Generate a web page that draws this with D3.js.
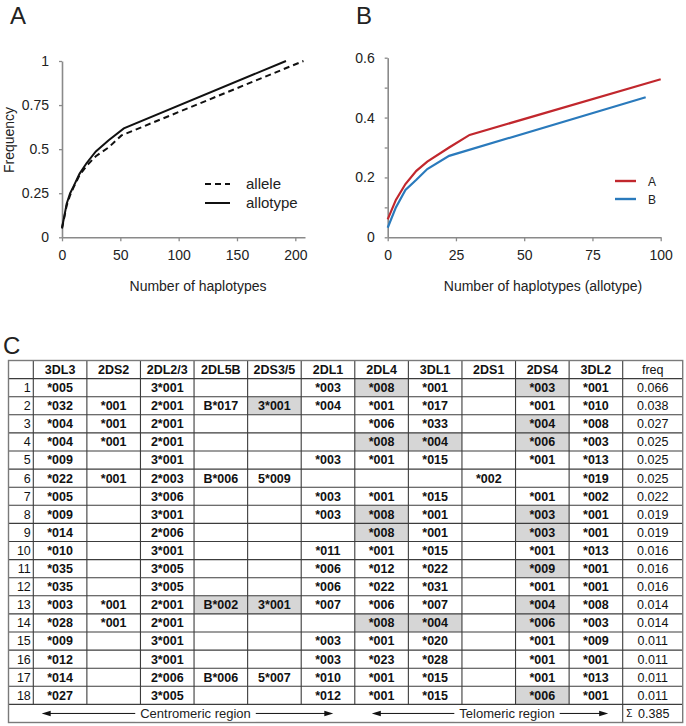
<!DOCTYPE html>
<html><head><meta charset="utf-8">
<script src="https://cdn.jsdelivr.net/npm/d3@7"></script>
<style>
body{margin:0;background:#fff}
svg{display:block}
text{font-family:"Liberation Sans",Arial,Helvetica,sans-serif}
</style>
</head><body>
<svg id="c" width="686" height="726"></svg>
<script>
// ---------- DATA ----------
// Panel A: cumulative frequency vs number of haplotypes
const allotypeCurve = [[0,0.054],[2,0.12],[4,0.19],[7,0.25],[10,0.29],[15,0.36],[21,0.42],[29,0.487],[40,0.55],[53,0.618],[192,1.0]];
const alleleCurve   = [[0,0.05],[2,0.115],[4,0.18],[7,0.24],[10,0.285],[15,0.352],[21,0.405],[29,0.46],[40,0.51],[51,0.578],[207,1.0]];
const aXTicks = [0,50,100,150,200];
const aYTicks = [0,0.25,0.5,0.75,1];
const aLegend = ["allele","allotype"];

// Panel B: haplotype groups A and B (allotype)
const groupACurve = [[0,0.06],[3,0.125],[6.5,0.178],[10.5,0.222],[14.5,0.253],[22.5,0.3],[30,0.342],[100,0.528]];
const groupBCurve = [[0,0.032],[3,0.10],[6.5,0.158],[10.5,0.192],[14.5,0.228],[22.5,0.272],[94.5,0.468]];
const bXTicks = [0,25,50,75,100];
const bYTicks = [0,0.1,0.2,0.3,0.4,0.5,0.6];
const bLegend = ["A","B"];

// Panel C: table
const genes = ["3DL3","2DS2","2DL2/3","2DL5B","2DS3/5","2DL1","2DL4","3DL1","2DS1","2DS4","3DL2"];
const haplotypes = [
  ["*005","","3*001","","","*003","*008","*001","","*003","*001"],
  ["*032","*001","2*001","B*017","3*001","*004","*001","*017","","*001","*010"],
  ["*004","*001","2*001","","","","*006","*033","","*004","*008"],
  ["*004","*001","2*001","","","","*008","*004","","*006","*003"],
  ["*009","","3*001","","","*003","*001","*015","","*001","*013"],
  ["*022","*001","2*003","B*006","5*009","","","","*002","","*019"],
  ["*005","","3*006","","","*003","*001","*015","","*001","*002"],
  ["*009","","3*001","","","*003","*008","*001","","*003","*001"],
  ["*014","","2*006","","","","*008","*001","","*003","*001"],
  ["*010","","3*001","","","*011","*001","*015","","*001","*013"],
  ["*035","","3*005","","","*006","*012","*022","","*009","*001"],
  ["*035","","3*005","","","*006","*022","*031","","*001","*001"],
  ["*003","*001","2*001","B*002","3*001","*007","*006","*007","","*004","*008"],
  ["*028","*001","2*001","","","","*008","*004","","*006","*003"],
  ["*009","","3*001","","","*003","*001","*020","","*001","*009"],
  ["*012","","3*001","","","*003","*023","*028","","*001","*001"],
  ["*014","","2*006","B*006","5*007","*010","*001","*015","","*001","*013"],
  ["*027","","3*005","","","*012","*001","*015","","*006","*001"]
];
const freqs = [0.066,0.038,0.027,0.025,0.025,0.025,0.022,0.019,0.019,0.016,0.016,0.016,0.014,0.014,0.011,0.011,0.011,0.011];
// shaded cells: [row index (0-based), gene]
const shadedCells = [[0,"2DL4"],[0,"2DS4"],[1,"2DS3/5"],[2,"2DS4"],[3,"2DL4"],[3,"3DL1"],[3,"2DS4"],
  [7,"2DL4"],[7,"2DS4"],[8,"2DL4"],[8,"2DS4"],[10,"2DS4"],[12,"2DL5B"],[12,"2DS3/5"],[12,"2DS4"],
  [13,"2DL4"],[13,"3DL1"],[13,"2DS4"],[17,"2DS4"]];
const regions = [
  {name:"Centromeric region", from:"3DL3", to:"2DL1"},
  {name:"Telomeric region", from:"2DL4", to:"3DL2"}
];
const freqTotal = 0.385;

// ---------- DRAW ----------
const svg = d3.select("#c");
const axisColor = "#8a8a8a";
const FONT = "Liberation Sans, Arial, sans-serif";

function styleAxis(g){
  g.selectAll("path.domain").attr("stroke", axisColor).attr("stroke-width", 1.6);
  g.selectAll(".tick line").attr("stroke", axisColor).attr("stroke-width", 1.3);
  g.selectAll(".tick text").attr("fill", "#222").attr("font-size", 14).attr("font-family", FONT);
}

// Panel labels
[["A",10,24],["B",356,24],["C",3,354]].forEach(([t,x,y])=>{
  svg.append("text").attr("x",x).attr("y",y).attr("font-size",24).attr("fill","#222").text(t);
});

// ---- Panel A ----
const xA = d3.scaleLinear().domain([0,208.3]).range([62,305]);
const yA = d3.scaleLinear().domain([0,1]).range([237.3,61]);
const gA = svg.append("g");
gA.append("g").attr("transform","translate(0,237.3)")
  .call(d3.axisBottom(xA).tickValues(aXTicks).tickSize(4).tickSizeOuter(0).tickPadding(9))
  .call(styleAxis);
gA.append("g").attr("transform","translate(62,0)")
  .call(d3.axisLeft(yA).tickValues(aYTicks).tickFormat(d=>String(d)).tickSize(3).tickSizeOuter(0).tickPadding(10))
  .call(styleAxis);
const lineA = d3.line().x(d=>xA(d[0])).y(d=>yA(d[1]));
gA.append("path").datum(alleleCurve).attr("d",lineA).attr("fill","none")
  .attr("stroke","#111").attr("stroke-width",2).attr("stroke-dasharray","6,4");
gA.append("path").datum(allotypeCurve).attr("d",lineA).attr("fill","none")
  .attr("stroke","#111").attr("stroke-width",2);
gA.append("text").attr("x",198).attr("y",291).attr("text-anchor","middle").attr("font-size",14).attr("fill","#222").text("Number of haplotypes");
gA.append("text").attr("transform","translate(14,140) rotate(-90)").attr("text-anchor","middle").attr("font-size",14).attr("fill","#222").text("Frequency");
aLegend.forEach((t,i)=>{
  const y = 184 + i*19;
  gA.append("line").attr("x1",205).attr("x2",230).attr("y1",y).attr("y2",y)
    .attr("stroke","#111").attr("stroke-width",2).attr("stroke-dasharray", i===0 ? "6,4" : null);
  gA.append("text").attr("x",246).attr("y",y+5).attr("font-size",15).attr("fill","#222").text(t);
});

// ---- Panel B ----
const xB = d3.scaleLinear().domain([0,100]).range([387.7,660.7]);
const yB = d3.scaleLinear().domain([0,0.6]).range([237.3,57.7]);
const gB = svg.append("g");
gB.append("g").attr("transform","translate(0,237.3)")
  .call(d3.axisBottom(xB).tickValues(bXTicks).tickSize(4).tickSizeOuter(0).tickPadding(9))
  .call(styleAxis);
gB.append("g").attr("transform","translate(387.7,0)")
  .call(d3.axisLeft(yB).tickValues(bYTicks).tickFormat(d=>(Math.round(d*10)%2===0 ? String(Math.round(d*10)/10) : "")).tickSize(3).tickSizeOuter(0).tickPadding(10))
  .call(styleAxis);
const lineB = d3.line().x(d=>xB(d[0])).y(d=>yB(d[1]));
const colA = "#c1272d", colB = "#2a7abc";
gB.append("path").datum(groupACurve).attr("d",lineB).attr("fill","none").attr("stroke",colA).attr("stroke-width",2.2);
gB.append("path").datum(groupBCurve).attr("d",lineB).attr("fill","none").attr("stroke",colB).attr("stroke-width",2.2);
gB.append("text").attr("x",543).attr("y",291).attr("text-anchor","middle").attr("font-size",14).attr("fill","#222").text("Number of haplotypes (allotype)");
bLegend.forEach((t,i)=>{
  const y = 181 + i*18;
  gB.append("line").attr("x1",615).attr("x2",636).attr("y1",y).attr("y2",y)
    .attr("stroke", i===0?colA:colB).attr("stroke-width",2.4);
  gB.append("text").attr("x",648).attr("y",y+4.5).attr("font-size",12).attr("fill","#222").text(t);
});

// ---- Panel C: table ----
const tTop = 360.5, rowH = 18.1, tLeft = 8.5, tRight = 682.7;
const idxRight = 33.3;
const xCol = d3.scaleBand().domain(genes).range([idxRight, 622.7]);
const freqL = xCol.range()[1], freqR = tRight;
const nRows = haplotypes.length;
const gC = svg.append("g");
const rowY = i => tTop + rowH*(i+1);   // data row i top (header is row 0)

// shading
gC.selectAll("rect.shade").data(shadedCells).join("rect")
  .attr("x", d=>xCol(d[1])).attr("y", d=>rowY(d[0]))
  .attr("width", xCol.bandwidth()).attr("height", rowH).attr("fill","#d6d6d6");

// grid lines
const lineColor = "#3c3c3c";
for(let r=1;r<=nRows+1;r++){
  const y = tTop + rowH*r;
  gC.append("line").attr("x1",tLeft).attr("x2",tRight).attr("y1",y).attr("y2",y).attr("stroke",lineColor).attr("stroke-width",1.1);
}
const vEdges = [idxRight, ...genes.map(g=>xCol(g)+xCol.bandwidth())];
vEdges.forEach(x=>{
  gC.append("line").attr("x1",x).attr("x2",x).attr("y1",tTop).attr("y2",tTop+rowH*(nRows+1)).attr("stroke",lineColor).attr("stroke-width",1.1);
});
// footer separator before sum
gC.append("line").attr("x1",freqL).attr("x2",freqL).attr("y1",tTop+rowH*(nRows+1)).attr("y2",tTop+rowH*(nRows+2)).attr("stroke",lineColor).attr("stroke-width",1.1);
// outer border
gC.append("rect").attr("x",tLeft).attr("y",tTop).attr("width",tRight-tLeft).attr("height",rowH*(nRows+2))
  .attr("fill","none").attr("stroke","#7a7a7a").attr("stroke-width",1.4);

const base = 4.4;
// header
gC.selectAll("text.hdr").data(genes).join("text")
  .attr("x", d=>xCol(d)+xCol.bandwidth()/2).attr("y", tTop+rowH/2+base)
  .attr("text-anchor","middle").attr("font-size",12.5).attr("font-weight","bold").attr("fill","#111").text(d=>d);
gC.append("text").attr("x",(freqL+freqR)/2).attr("y",tTop+rowH/2+base).attr("text-anchor","middle")
  .attr("font-size",12.5).attr("fill","#111").text("freq");

// rows
haplotypes.forEach((row,i)=>{
  const cy = rowY(i)+rowH/2+base;
  gC.append("text").attr("x",idxRight-2.5).attr("y",cy).attr("text-anchor","end").attr("font-size",12.5).attr("fill","#111").text(i+1);
  row.forEach((v,j)=>{
    if(!v) return;
    gC.append("text").attr("x",xCol(genes[j])+xCol.bandwidth()/2).attr("y",cy).attr("text-anchor","middle")
      .attr("font-size",12.5).attr("font-weight","bold").attr("fill","#111").text(v);
  });
  gC.append("text").attr("x",(freqL+freqR)/2).attr("y",cy).attr("text-anchor","middle")
    .attr("font-size",12.5).attr("fill","#111").text(d3.format(".3f")(freqs[i]));
});

// footer
const fy = rowY(nRows) + rowH/2;
regions.forEach((r,k)=>{
  const x0 = xCol(r.from) + (k===0 ? 8.4 : 17);
  const x1 = xCol(r.to) + xCol.bandwidth() - (k===0 ? 21.5 : 14.5);
  const tx = (x0+x1)/2 + (k===0 ? 8 : 17);
  gC.append("line").attr("x1",x0+6).attr("x2",x1-6).attr("y1",fy).attr("y2",fy).attr("stroke","#111").attr("stroke-width",1);
  gC.append("path").attr("d",`M${x0},${fy}L${x0+9},${fy-2.8}L${x0+9},${fy+2.8}Z`).attr("fill","#111");
  gC.append("path").attr("d",`M${x1},${fy}L${x1-9},${fy-2.8}L${x1-9},${fy+2.8}Z`).attr("fill","#111");
  const t = gC.append("text").attr("x",tx).attr("y",fy+base+0.3).attr("text-anchor","middle").attr("font-size",13).attr("fill","#222").text(r.name);
  const bb = t.node().getBBox();
  gC.insert("rect", () => t.node()).attr("x",bb.x-5).attr("y",bb.y).attr("width",bb.width+10).attr("height",bb.height).attr("fill","#fff");
});
gC.append("text").attr("x",freqL+3.5).attr("y",fy+base-0.5).attr("font-size",10).attr("fill","#111").text("Σ");
gC.append("text").attr("x",(freqL+freqR)/2+1).attr("y",fy+base).attr("text-anchor","middle").attr("font-size",12.5).attr("fill","#111").text(d3.format(".3f")(freqTotal));
</script>
</body></html>
